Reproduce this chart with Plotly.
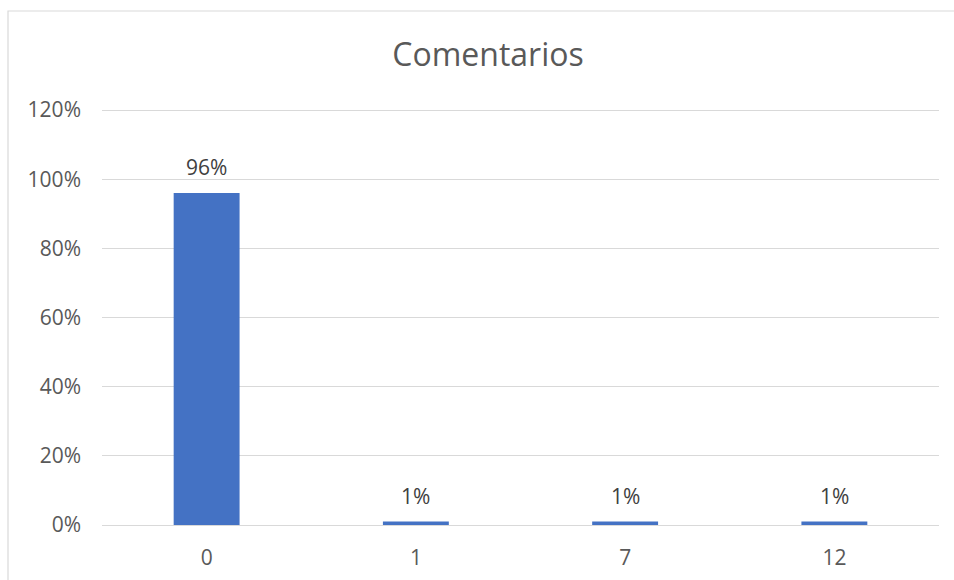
import plotly.graph_objects as go

categories = ["0", "1", "7", "12"]
values = [0.96, 0.01, 0.01, 0.01]
labels = ["96%", "1%", "1%", "1%"]
tick_vals = [0, 0.2, 0.4, 0.6, 0.8, 1.0, 1.2]
tick_text = ["0%", "20%", "40%", "60%", "80%", "100%", "120%"]

FONT = "Open Sans"
GREY = "#595959"

W, H = 954, 580
PAD = 4                       # extra px above the 120% gridline so it is drawn
SCALE = (525 - 110) / 1.2     # px per unit
Y_TOP = 1.2 + PAD / SCALE
PLOT_H = 525 - (110 - PAD)
PLOT_W = 939 - 102

fig = go.Figure(go.Bar(
    x=categories, y=values, marker=dict(color="#4472C4", line=dict(width=0)),
    width=0.315, hoverinfo="skip",
))

for i, (v, t) in enumerate(zip(values, labels)):
    fig.add_annotation(x=i, y=v, xref="x", yref="y", text=t, showarrow=False,
                       yanchor="bottom", yshift=10,
                       font=dict(family=FONT, size=21, color="#404040"))

# chart-area border: only the left and top edges are inside the picture
bx0 = (8 - 102) / PLOT_W
by1 = (525 - 11) / PLOT_H
fig.add_shape(type="path", xref="paper", yref="paper",
              path=f"M {bx0},-1 L {bx0},{by1} L 2,{by1}",
              line=dict(color="#D9D9D9", width=1.2), layer="below")

fig.update_layout(
    width=W, height=H,
    margin=dict(l=102, r=W - 939, t=110 - PAD, b=H - 525, autoexpand=False),
    paper_bgcolor="white", plot_bgcolor="white",
    showlegend=False,
    title=dict(text="Comentarios", x=488 / W, xref="container", xanchor="center",
               y=1 - 55 / H, yref="container", yanchor="middle", automargin=False,
               font=dict(family=FONT, size=32, color=GREY)),
    xaxis=dict(type="category", range=[-0.5, 3.5], showgrid=False, zeroline=False,
               showline=False, ticks="", ticklabelstandoff=18, automargin=False,
               tickfont=dict(family=FONT, size=21, color=GREY)),
    yaxis=dict(range=[0, Y_TOP], tickvals=tick_vals, ticktext=tick_text,
               showgrid=True, gridcolor="#D9D9D9", gridwidth=1.3,
               zeroline=True, zerolinecolor="#D9D9D9", zerolinewidth=1.3,
               showline=False, ticks="", ticklabelstandoff=20, automargin=False,
               tickfont=dict(family=FONT, size=21, color=GREY)),
)

fig.write_html("out.html", config={"displayModeBar": False},
               post_script="document.body.style.margin='0';document.body.style.overflow='hidden';")
